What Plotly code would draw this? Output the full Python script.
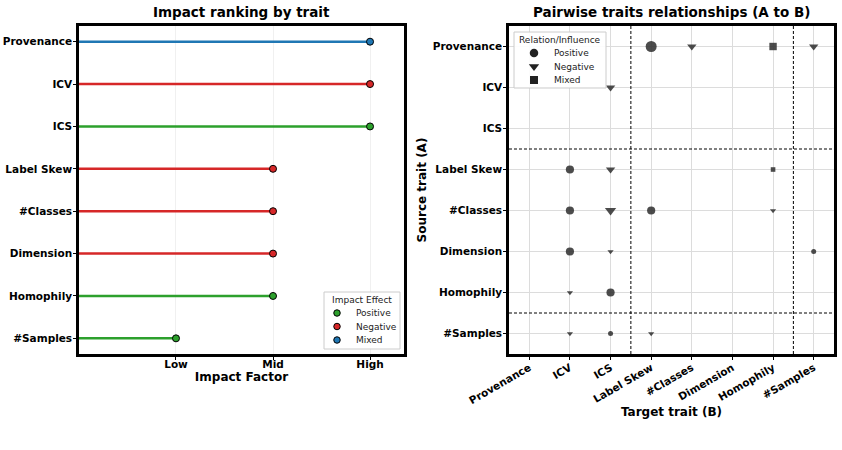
import plotly.graph_objects as go

# ---------------- data ----------------
traits = ["Provenance", "ICV", "ICS", "Label Skew", "#Classes", "Dimension", "Homophily", "#Samples"]
impact_level = [3, 3, 3, 2, 2, 2, 2, 1]
impact_effect = ["Mixed", "Negative", "Positive", "Negative", "Negative", "Negative", "Positive", "Positive"]
impact_ticks = [1, 2, 3]
impact_tick_labels = ["Low", "Mid", "High"]

effect_order = ["Positive", "Negative", "Mixed"]
effect_colors = {"Positive": "#2ca02c", "Negative": "#d62728", "Mixed": "#1f77b4"}

# pairwise relations (source A -> target B)
pair_source = ["Provenance", "Provenance", "Provenance", "Provenance",
               "ICV",
               "Label Skew", "Label Skew", "Label Skew",
               "#Classes", "#Classes", "#Classes", "#Classes",
               "Dimension", "Dimension", "Dimension",
               "Homophily", "Homophily",
               "#Samples", "#Samples", "#Samples"]
pair_target = ["Label Skew", "#Classes", "Homophily", "#Samples",
               "ICS",
               "ICV", "ICS", "Homophily",
               "ICV", "ICS", "Label Skew", "Homophily",
               "ICV", "ICS", "#Samples",
               "ICV", "ICS",
               "ICV", "ICS", "Label Skew"]
pair_relation = ["Positive", "Negative", "Mixed", "Negative",
                 "Negative",
                 "Positive", "Negative", "Mixed",
                 "Positive", "Negative", "Positive", "Negative",
                 "Positive", "Negative", "Positive",
                 "Negative", "Positive",
                 "Negative", "Positive", "Negative"]
pair_strength = [3, 2, 2, 2,
                 2,
                 2, 2, 1,
                 2, 3, 2, 1,
                 2, 1, 1,
                 1, 2,
                 1, 1, 1]
group_sizes = [3, 4, 1]  # trait groups separated by dashed lines

rel_symbols = {"Positive": "circle", "Negative": "triangle-down", "Mixed": "square"}
# marker pixel size per strength level, per symbol
rel_size = {"circle": {1: 5.0, 2: 8.2, 3: 11.0},
            "triangle-down": {1: 5.4, 2: 8.2, 3: 9.8},
            "square": {1: 4.6, 2: 7.4, 3: 10.0}}
legend_rel_size = {"circle": 8.5, "triangle-down": 9.0, "square": 8.0}

FONT = "DejaVu Sans"
MARK = "#333333"
fig = go.Figure()

# ---------------- left: lollipop ----------------
for t, v, e in zip(traits, impact_level, impact_effect):
    fig.add_trace(go.Scatter(
        x=[0, v], y=[t, t], mode="lines",
        line=dict(color=effect_colors[e], width=2.5),
        showlegend=False, hoverinfo="skip", xaxis="x", yaxis="y"))

for e in effect_order:
    xs = [v for v, ee in zip(impact_level, impact_effect) if ee == e]
    ys = [t for t, ee in zip(traits, impact_effect) if ee == e]
    fig.add_trace(go.Scatter(
        x=xs, y=ys, mode="markers", name=e, showlegend=False,
        marker=dict(color=effect_colors[e], size=7, line=dict(color="black", width=1)),
        xaxis="x", yaxis="y"))

# ---------------- right: pairwise ----------------
for r in effect_order:
    idx = [i for i, rr in enumerate(pair_relation) if rr == r]
    sym = rel_symbols[r]
    fig.add_trace(go.Scatter(
        x=[pair_target[i] for i in idx], y=[pair_source[i] for i in idx],
        mode="markers", name=r, showlegend=False,
        marker=dict(symbol=sym, color=MARK, opacity=0.88,
                    size=[rel_size[sym][pair_strength[i]] for i in idx],
                    line=dict(width=0)),
        xaxis="x2", yaxis="y2"))

# dashed separators between trait groups
bounds = []
acc = -0.5
for g in group_sizes[:-1]:
    acc += g
    bounds.append(acc)
for bnd in bounds:
    fig.add_shape(type="line", xref="x2", yref="y2 domain", x0=bnd, x1=bnd, y0=0, y1=1,
                  line=dict(color="black", width=1, dash="3px,2px"))
    fig.add_shape(type="line", xref="x2 domain", yref="y2", x0=0, x1=1, y0=bnd, y1=bnd,
                  line=dict(color="black", width=1, dash="3px,2px"))

# ---------------- legends (drawn on a pixel-space overlay axis) ----------------
legend_specs = [
    dict(title="Impact Effect", box=(324, 292, 400, 349), mx=337, tx=354, ys=[313, 326.5, 340],
         items=[(e, "circle", effect_colors[e], 6.5, dict(color="black", width=1)) for e in effect_order]),
    dict(title="Relation/Influence", box=(514, 32, 606, 88), mx=534, tx=552, ys=[53, 66.5, 80],
         items=[(r, rel_symbols[r], "#222222", legend_rel_size[rel_symbols[r]], dict(width=0))
                for r in effect_order]),
]
annotations = []
for spec in legend_specs:
    x0, y0, x1, y1 = spec["box"]
    fig.add_shape(type="rect", xref="x3", yref="y3", x0=x0, y0=y0, x1=x1, y1=y1,
                  line=dict(color="#cccccc", width=1), fillcolor="rgba(255,255,255,0.9)",
                  layer="below")
    annotations.append(dict(text=spec["title"], xref="x3", yref="y3", x=(x0 + x1) / 2, y=y0 + 8,
                            xanchor="center", yanchor="middle", showarrow=False,
                            font=dict(family=FONT, size=9, color="#222")))
    for (label, sym, col, sz, ln), yy in zip(spec["items"], spec["ys"]):
        fig.add_trace(go.Scatter(x=[spec["mx"]], y=[yy], mode="markers", showlegend=False,
                                 hoverinfo="skip",
                                 marker=dict(symbol=sym, color=col, size=sz, line=ln),
                                 xaxis="x3", yaxis="y3"))
        annotations.append(dict(text=label, xref="x3", yref="y3", x=spec["tx"], y=yy,
                                xanchor="left", yanchor="middle", showarrow=False,
                                font=dict(family=FONT, size=9, color="#222")))

tickfont = dict(family=FONT, size=10.5, color="black", weight="bold")
axis_common = dict(showline=True, linecolor="black", linewidth=2.5, mirror=True,
                   ticks="outside", ticklen=3, tickcolor="black", zeroline=False,
                   tickfont=tickfont, automargin=False)

annotations += [
    dict(text="Impact ranking by trait", xref="paper", yref="paper",
         x=(0.0938 + 0.4798) / 2, y=0.973, xanchor="center", yanchor="middle",
         showarrow=False, font=dict(family=FONT, size=13.5, weight="bold", color="black")),
    dict(text="Pairwise traits relationships (A to B)", xref="paper", yref="paper",
         x=(0.6045 + 0.9905) / 2, y=0.973, xanchor="center", yanchor="middle",
         showarrow=False, font=dict(family=FONT, size=13.5, weight="bold", color="black")),
]

fig.update_layout(
    width=842, height=450,
    margin=dict(l=0, r=0, t=0, b=0),
    paper_bgcolor="white", plot_bgcolor="rgba(0,0,0,0)",
    font=dict(family=FONT, color="black"),
    showlegend=False,
    xaxis=dict(domain=[0.0938, 0.4798], anchor="y", range=[0, 3.35],
               tickvals=impact_ticks, ticktext=impact_tick_labels,
               showgrid=True, gridcolor="rgba(0,0,0,0.06)", gridwidth=1,
               title=dict(text="Impact Factor", font=dict(family=FONT, size=12, weight="bold"), standoff=0),
               ticklabelstandoff=-4, **axis_common),
    yaxis=dict(domain=[0.2133, 0.9422], anchor="x", type="category",
               categoryorder="array", categoryarray=traits, range=[7.37, -0.37],
               showgrid=False, ticklabelstandoff=-1, **axis_common),
    xaxis2=dict(domain=[0.6045, 0.9905], anchor="y2", type="category",
                categoryorder="array", categoryarray=traits, range=[-0.5, 7.5],
                tickangle=-30, showgrid=True, gridcolor="#dcdcdc", gridwidth=1,
                title=dict(text="Target trait (B)", font=dict(family=FONT, size=12, weight="bold"), standoff=2),
                ticklabelstandoff=-2, **axis_common),
    yaxis2=dict(domain=[0.2133, 0.9422], anchor="x2", type="category",
                categoryorder="array", categoryarray=traits, range=[7.5, -0.5],
                showgrid=True, gridcolor="#dcdcdc", gridwidth=1,
                title=dict(text="Source trait (A)", font=dict(family=FONT, size=12, weight="bold"), standoff=4),
                ticklabelstandoff=-1, **axis_common),
    xaxis3=dict(domain=[0, 1], anchor="y3", range=[0, 842], visible=False, fixedrange=True),
    yaxis3=dict(domain=[0, 1], anchor="x3", range=[450, 0], visible=False, fixedrange=True),
    annotations=annotations,
)

fig.write_html("out.html")
